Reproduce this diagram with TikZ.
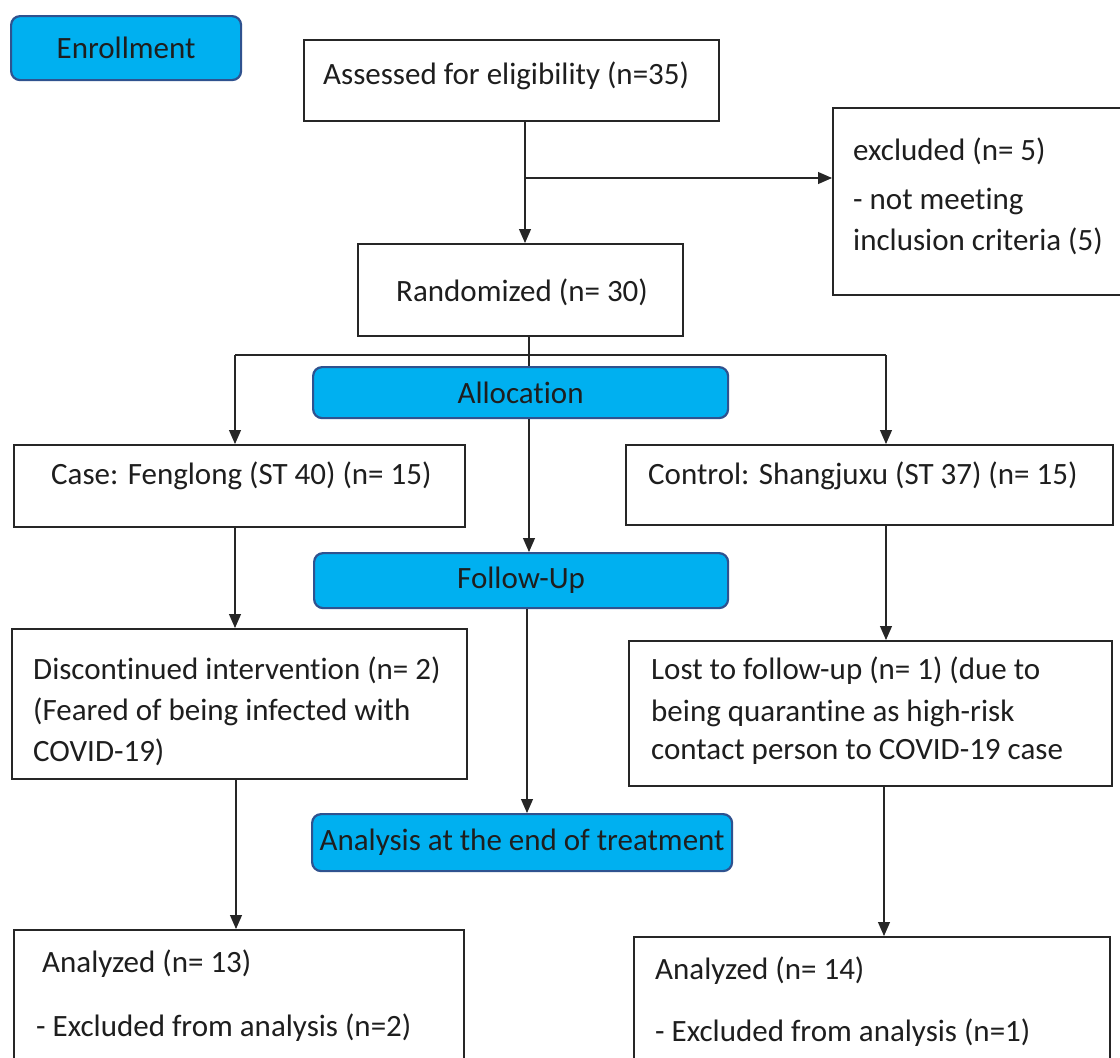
\documentclass[tikz,border=0pt]{standalone}
\usepackage{fontspec}
\setmainfont[RawFeature={-liga;-clig;-calt;-dlig;-rlig}]{Carlito}
\usetikzlibrary{arrows.meta}
\definecolor{cyanfill}{RGB}{0,176,240}
\definecolor{blueedge}{RGB}{47,82,143}
\definecolor{txt}{RGB}{30,30,30}
\begin{document}
\begin{tikzpicture}[x=1pt,y=-1pt,
  box/.style={draw=black!85, line width=1.6pt, anchor=north west, inner sep=0pt},
  phase/.style={draw=blueedge, fill=cyanfill, line width=2.2pt, rounded corners=9pt,
     anchor=north west, inner sep=0pt, text=txt, font=\fontsize{31}{36}\selectfont},
  lbl/.style={anchor=base west, inner sep=0pt, text=txt, font=\fontsize{31}{36}\selectfont},
  conn/.style={draw=black!85, line width=1.1pt},
  arr/.style={conn, -{Triangle[width=12pt,length=14pt]}}]
\useasboundingbox (0,0) rectangle (1120,1058);
\clip (0,0) rectangle (1120,1058);
\fill[white] (0,0) rectangle (1120,1058);
% phase boxes
\node[phase, minimum width=230, minimum height=64] (enroll) at (10,15) {Enrollment};
\node[phase, minimum width=415, minimum height=51] (alloc) at (312,366) {Allocation};
\node[phase, minimum width=414, minimum height=55] (follow) at (313,552) {Follow-Up};
\node[phase, minimum width=420, minimum height=57] (analysis) at (311,813) {Analysis at the end of treatment};
% white boxes
\node[box, minimum width=415, minimum height=81] (assessed) at (303,39) {};
\node[box, minimum width=300, minimum height=187] (excluded) at (832,107) {};
\node[box, minimum width=325, minimum height=92] (random) at (357,243) {};
\node[box, minimum width=451, minimum height=82] (caseb) at (13,444) {};
\node[box, minimum width=487, minimum height=80] (control) at (625,444) {};
\node[box, minimum width=455, minimum height=150] (disc) at (11,628) {};
\node[box, minimum width=483, minimum height=145] (lost) at (628,640) {};
\node[box, minimum width=450, minimum height=160] (anl) at (13,929) {};
\node[box, minimum width=476, minimum height=160] (anr) at (633,936) {};
% texts
\node[lbl] (t1) at (323,84) {Assessed for eligibility (n=35)};
\node[lbl] (t2) at (853,160) {excluded (n= 5)};
\node[lbl] (t3) at (853,209) {- not meeting};
\node[lbl] (t4) at (853,250) {inclusion criteria (5)};
\node[lbl] (t5) at (396,301) {Randomized (n= 30)};
\node[lbl] (t6) at (51,484) {Case: Fenglong (ST 40) (n= 15)};
\node[lbl] (t7) at (648,484) {Control: Shangjuxu (ST 37) (n= 15)};
\node[lbl] (t8) at (33,679) {Discontinued intervention (n= 2)};
\node[lbl] (t9) at (33,720) {(Feared of being infected with};
\node[lbl] (t10) at (33,761) {COVID-19)};
\node[lbl] (t11) at (651,679) {Lost to follow-up (n= 1) (due to};
\node[lbl] (t12) at (651,721) {being quarantine as high-risk};
\node[lbl] (t13) at (651,759) {contact person to COVID-19 case};
\node[lbl] (t14) at (42,972) {Analyzed (n= 13)};
\node[lbl] (t15) at (36,1036) {- Excluded from analysis (n=2)};
\node[lbl] (t16) at (655,979) {Analyzed (n= 14)};
\node[lbl] (t17) at (655,1041) {- Excluded from analysis (n=1)};
% connector coordinates
\coordinate (c1) at (525,178);
\coordinate (c2) at (529,355);
\coordinate (cl) at (235,355);
\coordinate (cr) at (886,355);
\coordinate (c3) at (527,700);
\coordinate (c4) at (236,850);
\coordinate (c5) at (884,850);
% connectors
\draw[arr] (c1 |- assessed.south) -- (c1 |- random.north);
\draw[arr] (c1) -- (c1 -| excluded.west);
\draw[conn] (c2 |- random.south) -- (c2 |- alloc.north);
\draw[conn] (cl) -- (cr);
\draw[arr] (cl) -- (cl |- caseb.north);
\draw[arr] (cr) -- (cr |- control.north);
\draw[arr] (c2 |- alloc.south) -- (c2 |- follow.north);
\draw[arr] (cl |- caseb.south) -- (cl |- disc.north);
\draw[arr] (cr |- control.south) -- (cr |- lost.north);
\draw[arr] (c3 |- follow.south) -- (c3 |- analysis.north);
\draw[arr] (c4 |- disc.south) -- (c4 |- anl.north);
\draw[arr] (c5 |- lost.south) -- (c5 |- anr.north);
\end{tikzpicture}
\end{document}
